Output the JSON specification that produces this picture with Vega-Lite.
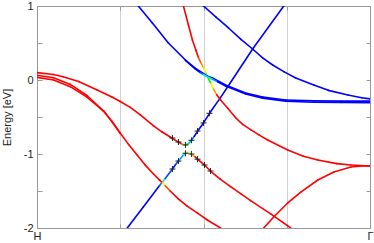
{
  "$schema": "https://vega.github.io/schema/vega-lite/v6.json",
  "width": 333,
  "height": 222,
  "autosize": "none",
  "padding": {"left": 37, "top": 6, "right": 4, "bottom": 15},
  "config": {
    "view": {"stroke": "#999", "strokeWidth": 1},
    "font": "Liberation Sans",
    "axis": {"labelFont": "Liberation Sans", "titleFont": "Liberation Sans", "labelFontSize": 11, "titleFontSize": 11, "labelColor": "#222", "titleColor": "#222", "titleFontWeight": "normal", "tickColor": "#999", "domain": false}
  },
  "datasets": {
    "bands": [
      {"b": "R1", "k": 0, "e": 0.10, "w": 1},
      {"b": "R1", "k": 0.2, "e": 0.075, "w": 1},
      {"b": "R1", "k": 0.313, "e": 0.045, "w": 1},
      {"b": "R1", "k": 0.5, "e": -0.02, "w": 1},
      {"b": "R1", "k": 0.723, "e": -0.135, "w": 1},
      {"b": "R1", "k": 0.9, "e": -0.23, "w": 1},
      {"b": "R1", "k": 1.0, "e": -0.29, "w": 1},
      {"b": "R1", "k": 1.12, "e": -0.37, "w": 1},
      {"b": "R1", "k": 1.241, "e": -0.47, "w": 1},
      {"b": "R1", "k": 1.4, "e": -0.62, "w": 1},
      {"b": "R1", "k": 1.5, "e": -0.70, "w": 1},
      {"b": "R1", "k": 1.6, "e": -0.77, "w": 1},
      {"b": "R1", "k": 1.65, "e": -0.805, "w": 1},
      {"b": "R1", "k": 1.70, "e": -0.84, "w": 1},
      {"b": "R1", "k": 1.74, "e": -0.865, "w": 0.8},
      {"b": "R1", "k": 1.783, "e": -0.878, "w": 0.5},
      {"b": "R1", "k": 1.82, "e": -0.86, "w": 0.3},
      {"b": "R1", "k": 1.855, "e": -0.815, "w": 0.1},
      {"b": "R1", "k": 1.89, "e": -0.76, "w": 0},
      {"b": "R1", "k": 1.93, "e": -0.69, "w": 0},
      {"b": "R1", "k": 2.0, "e": -0.58, "w": 0},
      {"b": "R1", "k": 2.084, "e": -0.43, "w": 0},
      {"b": "R1", "k": 2.2, "e": -0.245, "w": 0},
      {"b": "R1", "k": 2.289, "e": -0.095, "w": 0},
      {"b": "R1", "k": 2.59, "e": 0.419, "w": 0},
      {"b": "R1", "k": 2.964, "e": 1.0, "w": 0},

      {"b": "L", "k": 1.084, "e": -2.0, "w": 0},
      {"b": "L", "k": 1.277, "e": -1.716, "w": 0},
      {"b": "L", "k": 1.47, "e": -1.43, "w": 0.1},
      {"b": "L", "k": 1.506, "e": -1.378, "w": 0.45},
      {"b": "L", "k": 1.54, "e": -1.33, "w": 0.05},
      {"b": "L", "k": 1.627, "e": -1.203, "w": 0},
      {"b": "L", "k": 1.66, "e": -1.15, "w": 0.05},
      {"b": "L", "k": 1.699, "e": -1.095, "w": 0.2},
      {"b": "L", "k": 1.759, "e": -1.014, "w": 0.4},
      {"b": "L", "k": 1.80, "e": -0.98, "w": 0.6},
      {"b": "L", "k": 1.85, "e": -1.0, "w": 0.85},
      {"b": "L", "k": 1.90, "e": -1.04, "w": 1},
      {"b": "L", "k": 1.95, "e": -1.09, "w": 1},
      {"b": "L", "k": 2.012, "e": -1.149, "w": 1},
      {"b": "L", "k": 2.084, "e": -1.23, "w": 1},
      {"b": "L", "k": 2.2, "e": -1.34, "w": 1},
      {"b": "L", "k": 2.325, "e": -1.44, "w": 1},
      {"b": "L", "k": 2.45, "e": -1.54, "w": 1},
      {"b": "L", "k": 2.566, "e": -1.63, "w": 1},
      {"b": "L", "k": 2.807, "e": -1.81, "w": 1},
      {"b": "L", "k": 3.048, "e": -2.0, "w": 1},

      {"b": "R2A", "k": 0, "e": 0.065, "w": 1},
      {"b": "R2A", "k": 0.2, "e": 0.03, "w": 1},
      {"b": "R2A", "k": 0.4, "e": -0.06, "w": 1},
      {"b": "R2A", "k": 0.6, "e": -0.21, "w": 1},
      {"b": "R2A", "k": 0.8, "e": -0.42, "w": 1},
      {"b": "R2A", "k": 0.9, "e": -0.56, "w": 1},
      {"b": "R2A", "k": 1.0, "e": -0.72, "w": 1},
      {"b": "R2A", "k": 1.1, "e": -0.87, "w": 1},
      {"b": "R2A", "k": 1.2, "e": -1.01, "w": 1},
      {"b": "R2A", "k": 1.3, "e": -1.15, "w": 1},
      {"b": "R2A", "k": 1.4, "e": -1.27, "w": 1},
      {"b": "R2A", "k": 1.47, "e": -1.35, "w": 1},
      {"b": "R2A", "k": 1.506, "e": -1.39, "w": 0.7},
      {"b": "R2A", "k": 1.54, "e": -1.43, "w": 0.95},
      {"b": "R2A", "k": 1.6, "e": -1.50, "w": 1},
      {"b": "R2A", "k": 1.7, "e": -1.61, "w": 1},
      {"b": "R2A", "k": 1.8, "e": -1.70, "w": 1},
      {"b": "R2A", "k": 1.928, "e": -1.80, "w": 1},
      {"b": "R2A", "k": 2.05, "e": -1.895, "w": 1},
      {"b": "R2A", "k": 2.205, "e": -2.0, "w": 1},

      {"b": "R2B", "k": 0, "e": 0.035, "w": 1},
      {"b": "R2B", "k": 0.2, "e": 0.0, "w": 1},
      {"b": "R2B", "k": 0.4, "e": -0.09, "w": 1},
      {"b": "R2B", "k": 0.6, "e": -0.23, "w": 1},
      {"b": "R2B", "k": 0.8, "e": -0.42, "w": 1},
      {"b": "R2B", "k": 0.9, "e": -0.56, "w": 1},
      {"b": "R2B", "k": 1.0, "e": -0.72, "w": 1},

      {"b": "R3", "k": 1.759, "e": 1.0, "w": 1},
      {"b": "R3", "k": 1.819, "e": 0.743, "w": 1},
      {"b": "R3", "k": 1.867, "e": 0.541, "w": 1},
      {"b": "R3", "k": 1.91, "e": 0.40, "w": 1},
      {"b": "R3", "k": 1.94, "e": 0.30, "w": 0.95},
      {"b": "R3", "k": 1.97, "e": 0.23, "w": 0.85},
      {"b": "R3", "k": 2.0, "e": 0.162, "w": 0.68},
      {"b": "R3", "k": 2.03, "e": 0.09, "w": 0.55},
      {"b": "R3", "k": 2.06, "e": 0.014, "w": 0.5},
      {"b": "R3", "k": 2.09, "e": -0.05, "w": 0.65},
      {"b": "R3", "k": 2.12, "e": -0.122, "w": 0.85},
      {"b": "R3", "k": 2.16, "e": -0.2, "w": 1},
      {"b": "R3", "k": 2.205, "e": -0.27, "w": 1},
      {"b": "R3", "k": 2.289, "e": -0.378, "w": 1},
      {"b": "R3", "k": 2.386, "e": -0.51, "w": 1},
      {"b": "R3", "k": 2.47, "e": -0.60, "w": 1},
      {"b": "R3", "k": 2.566, "e": -0.67, "w": 1},
      {"b": "R3", "k": 2.67, "e": -0.745, "w": 1},
      {"b": "R3", "k": 2.771, "e": -0.81, "w": 1},
      {"b": "R3", "k": 3.012, "e": -0.946, "w": 1},
      {"b": "R3", "k": 3.2, "e": -1.03, "w": 1},
      {"b": "R3", "k": 3.373, "e": -1.081, "w": 1},
      {"b": "R3", "k": 3.6, "e": -1.13, "w": 1},
      {"b": "R3", "k": 3.771, "e": -1.149, "w": 1},
      {"b": "R3", "k": 4.0, "e": -1.162, "w": 1},

      {"b": "R4", "k": 2.723, "e": -2.0, "w": 1},
      {"b": "R4", "k": 2.843, "e": -1.851, "w": 1},
      {"b": "R4", "k": 3.012, "e": -1.662, "w": 1},
      {"b": "R4", "k": 3.169, "e": -1.514, "w": 1},
      {"b": "R4", "k": 3.373, "e": -1.351, "w": 1},
      {"b": "R4", "k": 3.566, "e": -1.243, "w": 1},
      {"b": "R4", "k": 3.771, "e": -1.176, "w": 1},
      {"b": "R4", "k": 3.9, "e": -1.163, "w": 1},
      {"b": "R4", "k": 4.0, "e": -1.162, "w": 1},

      {"b": "B1a", "k": 1.217, "e": 1.0, "w": 0},
      {"b": "B1a", "k": 1.386, "e": 0.77, "w": 0},
      {"b": "B1a", "k": 1.578, "e": 0.50, "w": 0},
      {"b": "B1a", "k": 1.783, "e": 0.27, "w": 0},
      {"b": "B1a", "k": 1.9, "e": 0.16, "w": 0},
      {"b": "B1a", "k": 1.988, "e": 0.095, "w": 0},
      {"b": "B1a", "k": 2.05, "e": 0.05, "w": 0},
      {"b": "B1a", "k": 2.108, "e": 0.027, "w": 0},
      {"b": "B1a", "k": 2.265, "e": -0.068, "w": 0},
      {"b": "B1a", "k": 2.506, "e": -0.176, "w": 0},
      {"b": "B1a", "k": 2.711, "e": -0.23, "w": 0},
      {"b": "B1a", "k": 2.988, "e": -0.27, "w": 0},
      {"b": "B1a", "k": 3.325, "e": -0.282, "w": 0},
      {"b": "B1a", "k": 3.651, "e": -0.285, "w": 0},
      {"b": "B1a", "k": 4.0, "e": -0.285, "w": 0},

      {"b": "B1b", "k": 1.783, "e": 0.265, "w": 0},
      {"b": "B1b", "k": 1.9, "e": 0.15, "w": 0},
      {"b": "B1b", "k": 1.96, "e": 0.10, "w": 0.1},
      {"b": "B1b", "k": 2.0, "e": 0.075, "w": 0.35},
      {"b": "B1b", "k": 2.05, "e": 0.04, "w": 0.45},
      {"b": "B1b", "k": 2.108, "e": 0.01, "w": 0.2},
      {"b": "B1b", "k": 2.17, "e": -0.025, "w": 0},
      {"b": "B1b", "k": 2.265, "e": -0.08, "w": 0},
      {"b": "B1b", "k": 2.506, "e": -0.19, "w": 0},
      {"b": "B1b", "k": 2.711, "e": -0.245, "w": 0},
      {"b": "B1b", "k": 2.988, "e": -0.285, "w": 0},
      {"b": "B1b", "k": 3.325, "e": -0.30, "w": 0},
      {"b": "B1b", "k": 3.651, "e": -0.305, "w": 0},
      {"b": "B1b", "k": 4.0, "e": -0.307, "w": 0},

      {"b": "B2", "k": 2.0, "e": 1.0, "w": 0},
      {"b": "B2", "k": 2.15, "e": 0.85, "w": 0},
      {"b": "B2", "k": 2.301, "e": 0.703, "w": 0},
      {"b": "B2", "k": 2.45, "e": 0.55, "w": 0},
      {"b": "B2", "k": 2.59, "e": 0.419, "w": 0},
      {"b": "B2", "k": 2.71, "e": 0.30, "w": 0},
      {"b": "B2", "k": 2.831, "e": 0.203, "w": 0},
      {"b": "B2", "k": 2.97, "e": 0.11, "w": 0},
      {"b": "B2", "k": 3.108, "e": 0.027, "w": 0},
      {"b": "B2", "k": 3.325, "e": -0.068, "w": 0},
      {"b": "B2", "k": 3.5, "e": -0.14, "w": 0},
      {"b": "B2", "k": 3.735, "e": -0.203, "w": 0},
      {"b": "B2", "k": 3.9, "e": -0.24, "w": 0},
      {"b": "B2", "k": 4.0, "e": -0.255, "w": 0}
    ],
    "marks": [
      {"k": 1.627, "e": -0.784},
      {"k": 1.699, "e": -0.838},
      {"k": 1.783, "e": -0.878},
      {"k": 1.855, "e": -0.815},
      {"k": 1.928, "e": -0.69},
      {"k": 2.0, "e": -0.58},
      {"k": 2.072, "e": -0.45},
      {"k": 1.627, "e": -1.203},
      {"k": 1.699, "e": -1.095},
      {"k": 1.783, "e": -0.99},
      {"k": 1.855, "e": -1.0},
      {"k": 1.928, "e": -1.07},
      {"k": 2.012, "e": -1.149},
      {"k": 2.084, "e": -1.23}
    ]
  },
  "resolve": {"axis": {"x": "independent", "y": "independent"}},
  "layer": [
    {
      "data": {"name": "bands"},
      "transform": [
        {"window": [{"op": "lead", "field": "k", "as": "k2"}, {"op": "lead", "field": "e", "as": "e2"}], "groupby": ["b"], "sort": [{"field": "k"}]},
        {"filter": "datum.k2 != null"}
      ],
      "mark": {"type": "rule", "strokeWidth": 1.6, "strokeCap": "round", "clip": true},
      "encoding": {
        "x": {"field": "k", "type": "quantitative", "scale": {"domain": [0, 4], "nice": false, "zero": false},
          "axis": {"orient": "bottom", "values": [0, 1, 2, 3, 4], "labelExpr": "datum.value == 0 ? 'H' : datum.value == 4 ? 'Γ' : ''", "grid": true, "gridColor": {"condition": {"test": "datum.value == 0 || datum.value == 4", "value": "transparent"}, "value": "#d0d0d0"}, "tickSize": -4, "labelPadding": 6, "labelFlush": false, "title": null}},
        "x2": {"field": "k2"},
        "y": {"field": "e", "type": "quantitative", "scale": {"domain": [-2, 1], "nice": false, "zero": false},
          "axis": {"orient": "left", "values": [-2, -1.5, -1, -0.5, 0, 0.5, 1], "labelExpr": "datum.value % 1 == 0 ? '' + datum.value : ''", "grid": false, "tickSize": -5, "labelPadding": 9, "title": "Energy [eV]", "titlePadding": 11, "labelFlush": false}},
        "y2": {"field": "e2"},
        "color": {"field": "w", "type": "quantitative", "scale": {"domain": [0, 0.33, 0.5, 0.67, 1], "range": ["#0000ff", "#00ccff", "#00ff00", "#ffff00", "#ff0000"]}, "legend": null}
      }
    },
    {
      "data": {"name": "marks"},
      "mark": {"type": "point", "shape": "M-1,0L1,0M0,-1L0,1", "size": 36, "filled": false, "stroke": "#222", "strokeWidth": 1, "opacity": 1},
      "encoding": {
        "x": {"field": "k", "type": "quantitative", "axis": {"orient": "top", "values": [1, 2, 3], "labels": false, "grid": false, "tickSize": -4, "title": null}},
        "y": {"field": "e", "type": "quantitative", "axis": {"orient": "right", "values": [-2, -1.5, -1, -0.5, 0, 0.5, 1], "labels": false, "grid": false, "tickSize": -4, "title": null}}
      }
    }
  ]
}
